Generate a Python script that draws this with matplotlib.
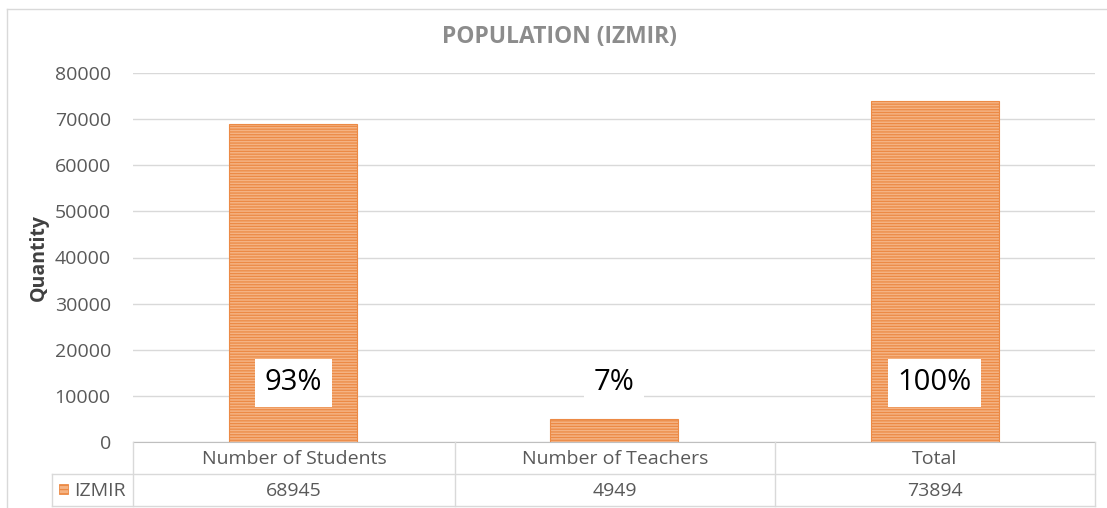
import matplotlib.pyplot as plt
from matplotlib.patches import Rectangle
from matplotlib.lines import Line2D

plt.rcParams['font.family'] = ['Open Sans', 'DejaVu Sans']
plt.rcParams['hatch.linewidth'] = 0.9

categories = ['Number of Students', 'Number of Teachers', 'Total']
izmir = [68945, 4949, 73894]
series_name = 'IZMIR'
yticks = [0, 10000, 20000, 30000, 40000, 50000, 60000, 70000, 80000]
label_y = 12800

W, H = 1107, 508
fig = plt.figure(figsize=(W / 100, H / 100), dpi=100)

def fx(px):
    return px / W

def fy(py):
    return 1 - py / H

ax = fig.add_axes([fx(133), fy(442), fx(1095) - fx(133), fy(73) - fy(442)])

grey_txt = '#595959'
grid_c = '#d9d9d9'

xs = range(len(categories))
ax.bar(xs, izmir, width=0.4, color='#f5b383', edgecolor='#ec8a45',
       hatch='------', linewidth=0.8, zorder=2)

ax.set_xlim(-0.5, len(categories) - 0.5)
ax.set_ylim(0, 80000)
ax.set_yticks(yticks)
ax.set_yticklabels([str(v) for v in yticks], fontsize=14, color=grey_txt)
ax.tick_params(axis='y', length=0, pad=16)
ax.set_xticks([])
ax.grid(axis='y', color=grid_c, linewidth=1, zorder=0)
for s in ['top', 'right', 'left']:
    ax.spines[s].set_visible(False)
ax.spines['bottom'].set_color('#bfbfbf')

ax.set_ylabel('Quantity', fontsize=14, fontweight='bold', color='#404040', labelpad=4)

# percentage of total on each bar
total = izmir[-1]
for x, v in zip(xs, izmir):
    pct = round(v / total * 100)
    ax.text(x, label_y, f'{pct}%', ha='center', va='center', fontsize=21,
            color='black', zorder=4,
            bbox=dict(facecolor='white', edgecolor='none', pad=7))

fig.text(fx(559), fy(37), 'POPULATION (IZMIR)', ha='center', va='center',
         fontsize=16.5, fontweight='bold', color='#8c8c8c')

# data table under the axis
tl = '#d9d9d9'
row1_top, row1_bot, row2_bot = 442, 474, 506
col_edges = [133, 455, 775, 1095]

def hline(x0, x1, y):
    fig.add_artist(Line2D([fx(x0), fx(x1)], [fy(y), fy(y)], color=tl, lw=1))

def vline(x, y0, y1):
    fig.add_artist(Line2D([fx(x), fx(x)], [fy(y0), fy(y1)], color=tl, lw=1))

hline(52, 1095, row1_bot)
hline(52, 1095, row2_bot)
vline(52, row1_bot, row2_bot)
for c in col_edges:
    vline(c, row1_top, row2_bot)

for i, (cat, v) in enumerate(zip(categories, izmir)):
    cx = (col_edges[i] + col_edges[i + 1]) / 2
    fig.text(fx(cx), fy((row1_top + row1_bot) / 2 + 1), cat, ha='center', va='center',
             fontsize=14, color=grey_txt)
    fig.text(fx(cx), fy((row1_bot + row2_bot) / 2 + 1), str(v), ha='center', va='center',
             fontsize=14, color=grey_txt)

fig.add_artist(Rectangle((fx(59), fy(494)), fx(9), fy(484) - fy(494),
                         facecolor='#f5b383', edgecolor='#ec8a45', hatch='----', lw=0.6))
fig.text(fx(74), fy(491), series_name, ha='left', va='center', fontsize=14, color=grey_txt)

# chart frame
fig.add_artist(Line2D([fx(7), fx(1107)], [fy(9), fy(9)], color='#d9d9d9', lw=1))
fig.add_artist(Line2D([fx(7), fx(7)], [fy(9), fy(508)], color='#d9d9d9', lw=1))

fig.savefig('out.png', dpi=100)
